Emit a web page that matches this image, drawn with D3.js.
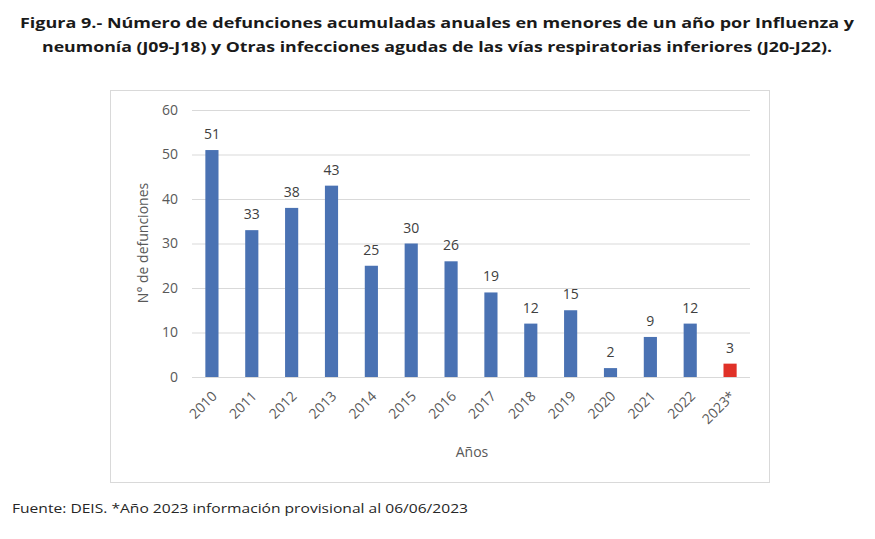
<!DOCTYPE html>
<html>
<head>
<meta charset="utf-8">
<script src="https://cdn.jsdelivr.net/npm/d3@7"></script>
<style>
  body { margin: 0; background: #fff; }
  svg { display: block; font-family: "Open Sans", "Liberation Sans", sans-serif; }
</style>
</head>
<body>
<svg id="chart" width="875" height="539"></svg>
<script>
const years = ['2010', '2011', '2012', '2013', '2014', '2015', '2016', '2017', '2018', '2019', '2020', '2021', '2022', '2023*'];
const deaths = [51, 33, 38, 43, 25, 30, 26, 19, 12, 15, 2, 9, 12, 3];
const yTicks = [0, 10, 20, 30, 40, 50, 60];

const titleLines = [
  'Figura 9.- Número de defunciones acumuladas anuales en menores de un año por Influenza y',
  'neumonía (J09-J18) y Otras infecciones agudas de las vías respiratorias inferiores (J20-J22).'
];
const footer = 'Fuente: DEIS. *Año 2023 información provisional al 06/06/2023';

const svg = d3.select('#chart');
const textCol = '#595959';

// title
svg.selectAll('.title').data(titleLines).join('text')
  .attr('x', 437).attr('y', (d, i) => 28 + i * 24)
  .attr('text-anchor', 'middle')
  .attr('font-size', '15px').attr('font-weight', '700').attr('fill', '#1a1a1a')
  .attr('textLength', (d, i) => i === 0 ? 834 : 790)
  .attr('lengthAdjust', 'spacingAndGlyphs')
  .text(d => d);

// chart frame
svg.append('rect')
  .attr('x', 110.5).attr('y', 90.5).attr('width', 659).attr('height', 392)
  .attr('fill', 'none').attr('stroke', '#d9d9d9');

const margin = { top: 110, left: 192, right: 750, bottom: 377 };
const x = d3.scaleBand().domain(years).range([margin.left, margin.right]).paddingInner(0.67).paddingOuter(0.335);
const y = d3.scaleLinear().domain([0, 60]).range([margin.bottom, margin.top]);

// gridlines + y labels
svg.append('g')
  .attr('transform', `translate(${margin.left},0)`)
  .call(d3.axisLeft(y).tickValues(yTicks).tickSize(-(margin.right - margin.left)).tickPadding(14))
  .call(g => g.select('.domain').remove())
  .call(g => g.selectAll('.tick line').attr('stroke', '#d9d9d9'))
  .call(g => g.selectAll('.tick text').attr('fill', textCol).attr('font-size', '14px')
    .attr('font-family', '"Open Sans", sans-serif'));

// bars
svg.selectAll('.bar').data(years).join('rect')
  .attr('x', d => x(d)).attr('width', x.bandwidth())
  .attr('y', (d, i) => y(deaths[i])).attr('height', (d, i) => y(0) - y(deaths[i]))
  .attr('fill', d => d === '2023*' ? '#e03128' : '#4a72b3');

// value labels
svg.selectAll('.val').data(years).join('text')
  .attr('x', d => x(d) + x.bandwidth() / 2)
  .attr('y', (d, i) => y(deaths[i]) - 11)
  .attr('text-anchor', 'middle')
  .attr('fill', '#404040').attr('font-size', '14px')
  .text((d, i) => deaths[i]);

// x axis labels
svg.append('g')
  .attr('transform', `translate(0,${margin.bottom})`)
  .call(d3.axisBottom(x).tickSize(0).tickPadding(0))
  .call(g => g.select('.domain').remove())
  .call(g => g.selectAll('.tick text')
    .attr('fill', textCol).attr('font-size', '14px')
    .attr('font-family', '"Open Sans", sans-serif')
    .attr('text-anchor', 'end').attr('dy', 0)
    .attr('transform', 'translate(6,20) rotate(-45)'));

// axis titles
svg.append('text')
  .attr('x', 472).attr('y', 457).attr('text-anchor', 'middle')
  .attr('fill', textCol).attr('font-size', '14px').text('Años');

svg.append('text')
  .attr('transform', 'translate(148,243) rotate(-90)').attr('text-anchor', 'middle')
  .attr('fill', textCol).attr('font-size', '14px').text('N° de defunciones');

// footer
svg.append('text')
  .attr('x', 12).attr('y', 513)
  .attr('fill', '#262626').attr('font-size', '13px')
  .attr('textLength', 456).attr('lengthAdjust', 'spacingAndGlyphs')
  .text(footer);
</script>
</body>
</html>
